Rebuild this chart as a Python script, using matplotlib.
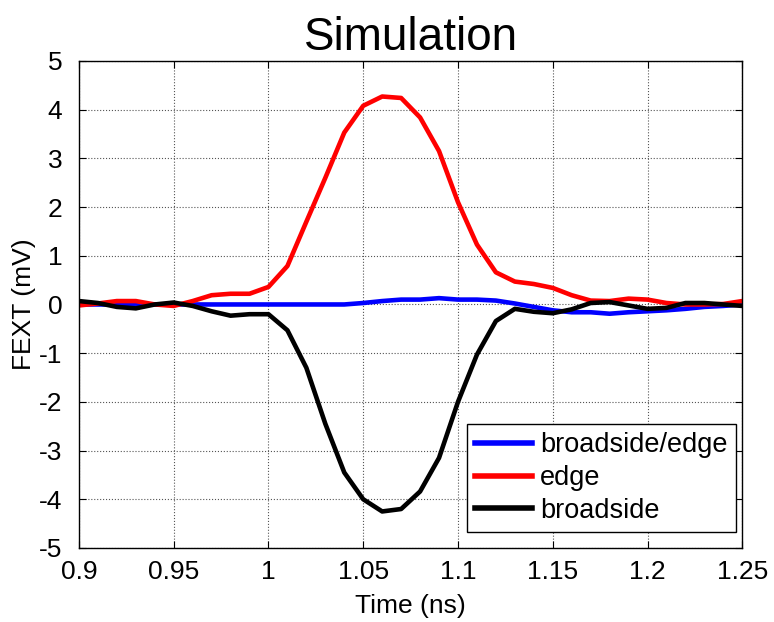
import numpy as np
import matplotlib
matplotlib.use('Agg')
import matplotlib.pyplot as plt

plt.rcParams['font.family'] = ['Liberation Sans', 'DejaVu Sans']
plt.rcParams['axes.unicode_minus'] = False

# Time axis (ns), one sample every 10 ps
time_ns = np.round(np.arange(0.90, 1.2501, 0.01), 2)

# FEXT (mV)
broadside_edge = [0.0, 0.0, 0.0, 0.0, 0.0, 0.0, 0.0, 0.0, 0.0, 0.0,
                  0.0, 0.0, 0.0, 0.0, 0.0, 0.03, 0.07, 0.1, 0.1, 0.13,
                  0.1, 0.1, 0.08, 0.02, -0.05, -0.12, -0.16, -0.16, -0.19, -0.16,
                  -0.14, -0.12, -0.09, -0.05, -0.03, 0.0]
edge = [-0.02, 0.02, 0.07, 0.07, 0.0, -0.03, 0.07, 0.19, 0.22, 0.22,
        0.36, 0.79, 1.7, 2.6, 3.53, 4.08, 4.27, 4.24, 3.84, 3.15,
        2.1, 1.23, 0.66, 0.47, 0.42, 0.34, 0.19, 0.08, 0.07, 0.12,
        0.1, 0.03, 0.0, 0.0, 0.01, 0.07]
broadside = [0.07, 0.03, -0.05, -0.08, 0.0, 0.04, -0.03, -0.14, -0.23, -0.2,
             -0.2, -0.53, -1.3, -2.45, -3.45, -4.0, -4.25, -4.2, -3.84, -3.15,
             -2.0, -1.03, -0.34, -0.09, -0.15, -0.18, -0.1, 0.03, 0.05, -0.02,
             -0.09, -0.07, 0.03, 0.03, 0.0, -0.03]

xticks = [0.9, 0.95, 1.0, 1.05, 1.1, 1.15, 1.2, 1.25]
xtick_labels = ['0.9', '0.95', '1', '1.05', '1.1', '1.15', '1.2', '1.25']
yticks = list(range(-5, 6))

fig = plt.figure(figsize=(7.74, 6.22), dpi=100)
ax = fig.add_axes([0.102, 0.119, 0.857, 0.783])

ax.plot(time_ns, broadside_edge, color='#0000ff', lw=3.3, label='broadside/edge')
ax.plot(time_ns, edge, color='#ff0000', lw=3.3, label='edge')
ax.plot(time_ns, broadside, color='#000000', lw=3.3, label='broadside')

ax.set_xlim(0.9, 1.25)
ax.set_ylim(-5, 5)
ax.set_xticks(xticks)
ax.set_xticklabels(xtick_labels)
ax.set_yticks(yticks)
ax.tick_params(direction='in', top=True, right=True, labelsize=19, length=5)
ax.tick_params(axis='x', pad=9)
ax.tick_params(axis='y', pad=12)
ax.grid(True, linestyle=':', color='#555555', linewidth=0.8)
for s in ax.spines.values():
    s.set_linewidth(1.0)

ax.set_xlabel('Time (ns)', fontsize=19, labelpad=7)
ax.set_ylabel('FEXT (mV)', fontsize=19, labelpad=2)
ax.set_title('Simulation', fontsize=33, pad=8)

leg = ax.legend(loc='lower right', bbox_to_anchor=(0.99, 0.033), borderaxespad=0,
                fontsize=19.5, handlelength=2.1, handletextpad=0.3, labelspacing=0.25,
                borderpad=0.3, fancybox=False, framealpha=1)
leg.get_frame().set_edgecolor('black')
leg.get_frame().set_linewidth(1.0)
for line in leg.get_lines():
    line.set_linewidth(4)

fig.savefig('out.png', dpi=100)
